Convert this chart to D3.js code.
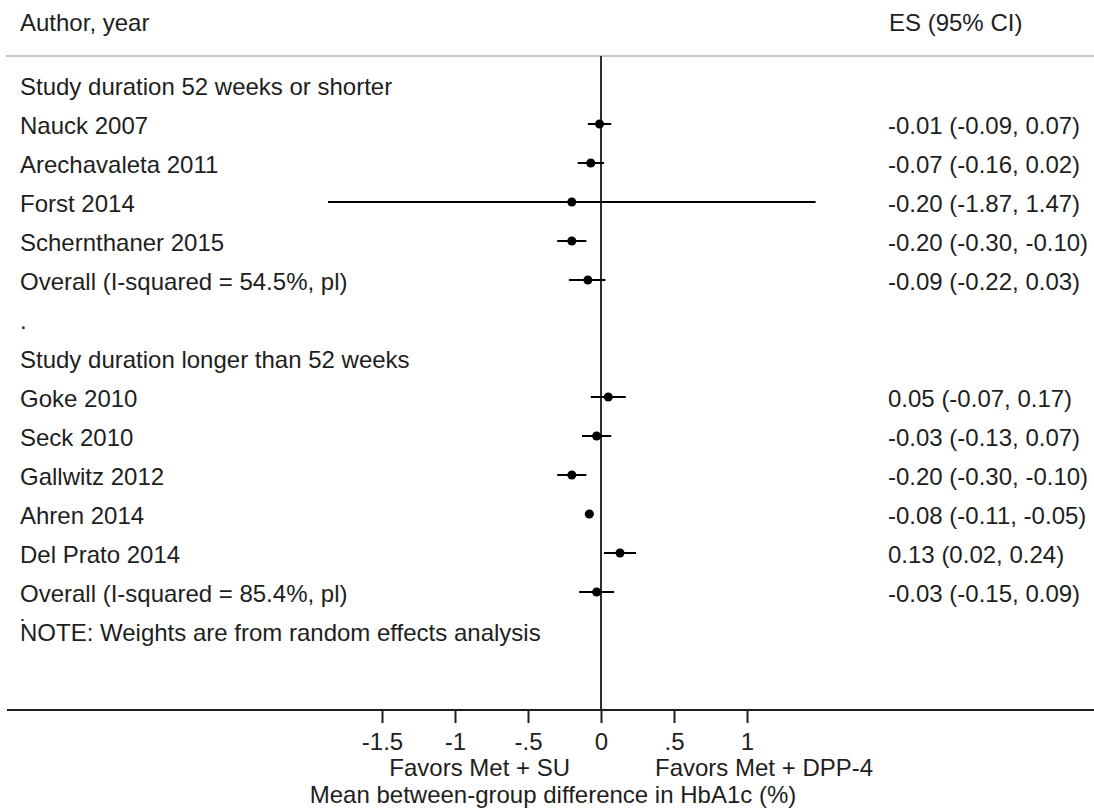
<!DOCTYPE html>
<html>
<head>
<meta charset="utf-8">
<script src="https://cdn.jsdelivr.net/npm/d3@7"></script>
<style>
  html, body { margin: 0; padding: 0; background: #fff; }
  svg { display: block; }
  text { font-family: "Liberation Sans", Arial, sans-serif; font-size: 24px; fill: #1e1e1e; }
</style>
</head>
<body>
<svg id="chart" width="1094" height="809"></svg>
<script>
// Row labels, top to bottom
const rowLabels = [
  "Study duration 52 weeks or shorter",
  "Nauck 2007",
  "Arechavaleta 2011",
  "Forst 2014",
  "Schernthaner 2015",
  "Overall (I-squared = 54.5%, pl)",
  ".",
  "Study duration longer than 52 weeks",
  "Goke 2010",
  "Seck 2010",
  "Gallwitz 2012",
  "Ahren 2014",
  "Del Prato 2014",
  "Overall (I-squared = 85.4%, pl)",
  "NOTE: Weights are from random effects analysis"
];
// Effect size and 95% CI per row (null = text-only row)
const effect = [null, -0.01, -0.07, -0.20, -0.20, -0.09, null, null, 0.05, -0.03, -0.20, -0.08, 0.13, -0.03, null];
const ciLow  = [null, -0.09, -0.16, -1.87, -0.30, -0.22, null, null, -0.07, -0.13, -0.30, -0.11, 0.02, -0.15, null];
const ciHigh = [null,  0.07,  0.02,  1.47, -0.10,  0.03, null, null,  0.17,  0.07, -0.10, -0.05, 0.24,  0.09, null];

const tickValues = [-1.5, -1, -0.5, 0, 0.5, 1];
const tickLabels = ["-1.5", "-1", "-.5", "0", ".5", "1"];

const W = 1094, H = 809;
const svg = d3.select("#chart");
svg.append("rect").attr("width", W).attr("height", H).attr("fill", "#fff");

const x = d3.scaleLinear().domain([-1.5, 1]).range([382, 747]);
const rowY = d3.scaleLinear().domain([0, 1]).range([95, 134]); // text baseline per row index
const axisY = 710;
const labelX = 20, esX = 888;

const fmt = d3.formatLocale({decimal: ".", thousands: ",", grouping: [3], currency: ["", ""], minus: "-"}).format(".2f");

// Column headers and separator
svg.append("text").attr("x", labelX).attr("y", 31).text("Author, year");
svg.append("text").attr("x", esX + 1).attr("y", 31).text("ES (95% CI)");
svg.append("line").attr("x1", 6).attr("x2", W).attr("y1", 56).attr("y2", 56)
  .attr("stroke", "#c6c6c6").attr("stroke-width", 2);

// Line of no effect
svg.append("line").attr("x1", x(0)).attr("x2", x(0)).attr("y1", 56).attr("y2", axisY)
  .attr("stroke", "#2e2e2e").attr("stroke-width", 2);

// Row labels
svg.append("g").selectAll("text").data(rowLabels).join("text")
  .attr("x", labelX).attr("y", (d, i) => rowY(i)).text(d => d);

// Small stray dot sitting just above the note's first letter
svg.append("rect").attr("x", labelX + 1.5).attr("y", rowY(14) - 22).attr("width", 2).attr("height", 2)
  .attr("fill", "#1e1e1e");

const rows = effect.map((e, i) => ({i, e, lo: ciLow[i], hi: ciHigh[i]})).filter(d => d.e !== null);

// Confidence intervals
svg.append("g").selectAll("line").data(rows).join("line")
  .attr("x1", d => x(d.lo)).attr("x2", d => x(d.hi))
  .attr("y1", d => rowY(d.i) - 10).attr("y2", d => rowY(d.i) - 10)
  .attr("stroke", "#000").attr("stroke-width", 2);

// Point estimates
svg.append("g").selectAll("circle").data(rows).join("circle")
  .attr("cx", d => x(d.e)).attr("cy", d => rowY(d.i) - 10).attr("r", 4.5)
  .attr("fill", "#000");

// ES (95% CI) column
svg.append("g").selectAll("text").data(rows).join("text")
  .attr("x", esX).attr("y", d => rowY(d.i))
  .text(d => `${fmt(d.e)} (${fmt(d.lo)}, ${fmt(d.hi)})`);

// X axis
svg.append("line").attr("x1", 7).attr("x2", W).attr("y1", axisY).attr("y2", axisY)
  .attr("stroke", "#1e1e1e").attr("stroke-width", 2);
const axis = d3.axisBottom(x).tickValues(tickValues)
  .tickFormat((d, i) => tickLabels[i]).tickSize(13).tickPadding(10);
const gAxis = svg.append("g").attr("transform", `translate(0,${axisY})`).call(axis);
gAxis.select(".domain").remove();
gAxis.selectAll(".tick line").attr("stroke", "#1e1e1e").attr("stroke-width", 2);
gAxis.selectAll(".tick text").attr("font-size", 24)
  .attr("font-family", "Liberation Sans, Arial, sans-serif").attr("fill", "#1e1e1e");

// Axis captions
svg.append("text").attr("x", 570).attr("y", 776).attr("text-anchor", "end").text("Favors Met + SU");
svg.append("text").attr("x", 655).attr("y", 776).text("Favors Met + DPP-4");
svg.append("text").attr("x", 553).attr("y", 803).attr("text-anchor", "middle")
  .text("Mean between-group difference in HbA1c (%)");
</script>
</body>
</html>
